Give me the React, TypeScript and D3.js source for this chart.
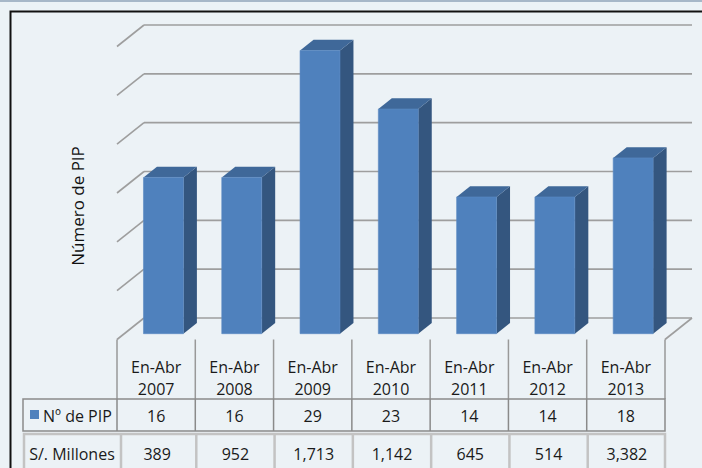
import React from "react";
import * as d3 from "d3";

// data
const categories = ["2007", "2008", "2009", "2010", "2011", "2012", "2013"];
const periodLabel = "En-Abr";
const numPip = [16, 16, 29, 23, 14, 14, 18];
const millones = ["389", "952", "1,713", "1,142", "645", "514", "3,382"];
const gridTicks = [0, 5, 10, 15, 20, 25, 30];

const W = 702;
const H = 468;
const FONT = "'Open Sans', 'Noto Sans', sans-serif";

const App = () => {
  // floor / 3D geometry
  const floorY = 339.5;
  const depthX = 27;
  const depthY = 21.5;
  const d1 = 0.27;
  const d2 = 0.77;

  const cols = d3.scaleBand().domain(categories).range([117, 665]);
  const x = d3
    .scaleBand()
    .domain(categories)
    .range([117, 665])
    .paddingInner(0.49)
    .paddingOuter(0.245);

  // value -> height in pixels
  const h = d3.scaleLinear().domain([0, 30]).range([0, 293]);

  const proj = (px, hv, d) => [px + d * depthX, floorY - d * depthY - hv];
  const pts = (arr) => arr.map((p) => p.join(",")).join(" ");

  const backY = (v) => floorY - depthY - h(v);

  return (
    <svg
      width={W}
      height={H}
      style={{ position: "absolute", left: 0, top: 0, display: "block" }}
      fontFamily={FONT}
    >
      <rect x={0} y={0} width={W} height={H} fill="#ecf2f6" />
      <rect x={0} y={0} width={W} height={2} fill="#a7b7c8" />
      {/* frame */}
      <path d={`M10.5,${H + 5} V11.5 H${W + 5}`} fill="none" stroke="#111" strokeWidth={2} />

      {/* gridlines on back wall */}
      {gridTicks.map((t) => (
        <g key={t}>
          <line
            x1={117 + depthX}
            x2={665 + depthX}
            y1={backY(t)}
            y2={backY(t)}
            stroke="#9e9e9e"
            strokeWidth={1.6}
          />
          <line
            x1={117}
            y1={floorY - h(t)}
            x2={117 + depthX}
            y2={backY(t)}
            stroke="#9e9e9e"
            strokeWidth={1.6}
          />
        </g>
      ))}
      {/* floor right edge */}
      <line x1={665} y1={floorY} x2={665 + depthX} y2={floorY - depthY} stroke="#9e9e9e" strokeWidth={1.6} />

      {/* bars */}
      {categories.map((c, i) => {
        const x0 = x(c);
        const x1 = x0 + x.bandwidth();
        const hv = h(numPip[i]);
        const fTL = proj(x0, hv, d1);
        const fTR = proj(x1, hv, d1);
        const fBR = proj(x1, 0, d1);
        const fBL = proj(x0, 0, d1);
        const bTL = proj(x0, hv, d2);
        const bTR = proj(x1, hv, d2);
        const bBR = proj(x1, 0, d2);
        return (
          <g key={c}>
            <polygon points={pts([fTR, bTR, bBR, fBR])} fill="#34567f" />
            <polygon points={pts([fTL, bTL, bTR, fTR])} fill="#3f6899" />
            <polygon points={pts([fTL, fTR, fBR, fBL])} fill="#4f81bd" stroke="#5a8ac3" strokeWidth={0.6} />
          </g>
        );
      })}

      {/* y axis title */}
      <text
        transform="translate(84,206) rotate(-90)"
        textAnchor="middle"
        fontSize={17}
        fill="#111"
      >
        Número de PIP
      </text>

      {/* data table: header */}
      {[...categories.map((c) => cols(c)), 665].map((px, i) => (
        <line key={i} x1={px} x2={px} y1={floorY} y2={399} stroke="#999" strokeWidth={1.5} />
      ))}
      {categories.map((c) => (
        <text key={c} x={cols(c) + cols.bandwidth() / 2} textAnchor="middle" fontSize={16} fill="#1a1a1a">
          <tspan x={cols(c) + cols.bandwidth() / 2} y={373}>{periodLabel}</tspan>
          <tspan x={cols(c) + cols.bandwidth() / 2} y={395}>{c}</tspan>
        </text>
      ))}

      {/* row: Nº de PIP */}
      <rect x={23} y={399} width={665 - 23} height={32} fill="none" stroke="#8a8a8a" strokeWidth={1.5} />
      {categories.map((c) => (
        <line key={c} x1={cols(c)} x2={cols(c)} y1={399} y2={431} stroke="#8a8a8a" strokeWidth={1.5} />
      ))}
      <rect x={30} y={410} width={9} height={9} fill="#4f81bd" />
      <text x={43} y={422} fontSize={16} fill="#1a1a1a">Nº de PIP</text>
      {categories.map((c, i) => (
        <text key={c} x={cols(c) + cols.bandwidth() / 2} y={422} textAnchor="middle" fontSize={16} fill="#1a1a1a">
          {numPip[i]}
        </text>
      ))}

      {/* row: S/. Millones */}
      <rect x={24} y={434} width={665 - 24} height={50} fill="none" stroke="#c3c3c3" strokeWidth={2.5} />
      {categories.map((c, i) => (
        <line
          key={c}
          x1={i === 0 ? 121 : cols(c) + 1}
          x2={i === 0 ? 121 : cols(c) + 1}
          y1={434}
          y2={H + 5}
          stroke="#c3c3c3"
          strokeWidth={2.5}
        />
      ))}
      <text x={72} y={460} textAnchor="middle" fontSize={16} fill="#1a1a1a">S/. Millones</text>
      {categories.map((c, i) => (
        <text key={c} x={cols(c) + cols.bandwidth() / 2 + 1} y={460} textAnchor="middle" fontSize={16} fill="#1a1a1a">
          {millones[i]}
        </text>
      ))}
    </svg>
  );
};

export default App;
